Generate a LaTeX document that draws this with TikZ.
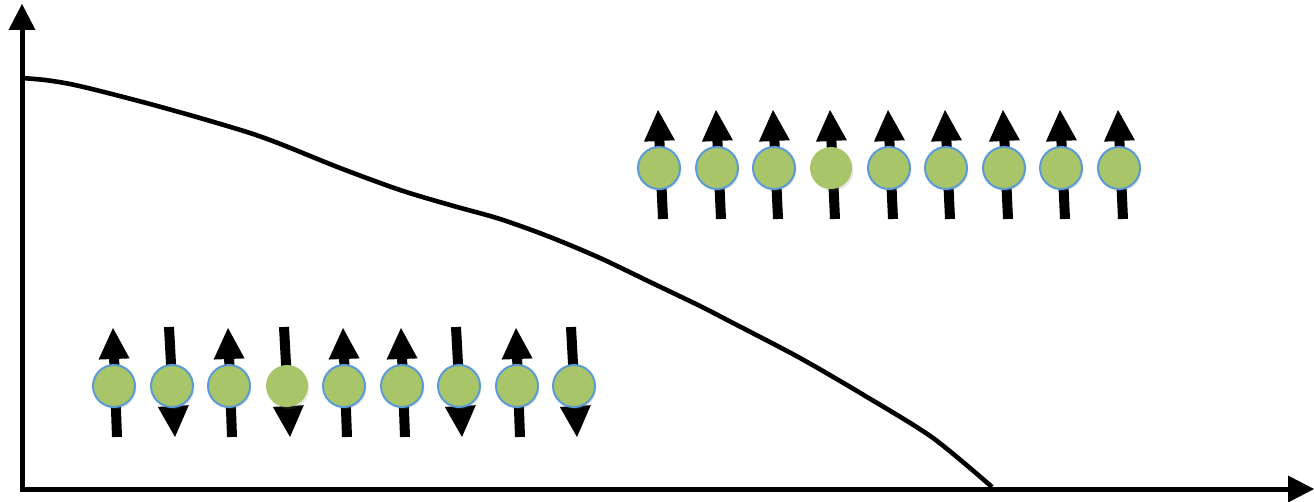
\documentclass[tikz,border=0pt]{standalone}
\usetikzlibrary{arrows.meta,shadows}
\definecolor{spingreen}{RGB}{169,197,106}
\definecolor{spinblue}{RGB}{91,155,213}
\tikzset{
  axis/.style={line width=5pt,-{Triangle[length=26pt,width=27pt,line width=0pt]}},
  curveline/.style={line width=4.6pt,line join=round},
  spinarrow/.style={line width=10pt,-{Triangle[length=31pt,width=31pt,line width=0pt]}},
  spinball/.style={circle,minimum width=42pt,inner sep=0pt,fill=spingreen,draw=spinblue,line width=2pt,
     drop shadow={opacity=0.18,shadow xshift=1.5pt,shadow yshift=-2pt}},
  plainball/.style={spinball,draw=none},
}
\begin{document}
\begin{tikzpicture}[x=1pt,y=-1pt]
\useasboundingbox (0,0) rectangle (1314,502);
\coordinate (O) at (22,489);
\coordinate (ytip) at (22,4);
\coordinate (xtip) at (1314,489);
\draw[axis] (O) -- (ytip);
\draw[axis] ([xshift=-2.5pt]O) -- (xtip);
\coordinate (cs) at (22,78);
\coordinate (ce) at (992,487);
\draw[curveline] plot[smooth,tension=0.5] coordinates {(cs) (45,80) (70,84) (100,91) (150,104) (200,118) (250,133) (283,145) (340,168) (400,190) (450,205) (500,219) (550,237) (600,258) (650,282) (700,306) (733,323) (800,358) (867,397) (933,438) (ce)};
% top row: all up
\foreach \i/\cx in {1/659,2/717,3/774,4/831,5/889,6/946,7/1004,8/1061,9/1119}{
  \coordinate (ta\i) at (\cx+4,219);
  \coordinate (tb\i) at (\cx-1,110);
  \draw[spinarrow] (ta\i) -- (tb\i);
}
\foreach \i/\cx in {1/659,2/717,3/774,5/889,6/946,7/1004,8/1061,9/1119}{
  \node[spinball] (t\i) at (\cx,168) {};
}
\node[plainball] (t4) at (831,168) {};
% bottom row
\foreach \i/\cx/\d in {1/114/u,2/172/d,3/229/u,4/287/d,5/344/u,6/402/u,7/459/d,8/517/u,9/574/d}{
  \if u\d
    \coordinate (ba\i) at (\cx+3,437);
    \coordinate (bb\i) at (\cx-1,328);
  \else
    \coordinate (ba\i) at (\cx-3,327);
    \coordinate (bb\i) at (\cx+3,437);
  \fi
  \draw[spinarrow] (ba\i) -- (bb\i);
}
\foreach \i/\cx in {1/114,2/172,3/229,5/344,6/402,7/459,8/517,9/574}{
  \node[spinball] (b\i) at (\cx,386) {};
}
\node[plainball] (b4) at (287,386) {};
\end{tikzpicture}
\end{document}
